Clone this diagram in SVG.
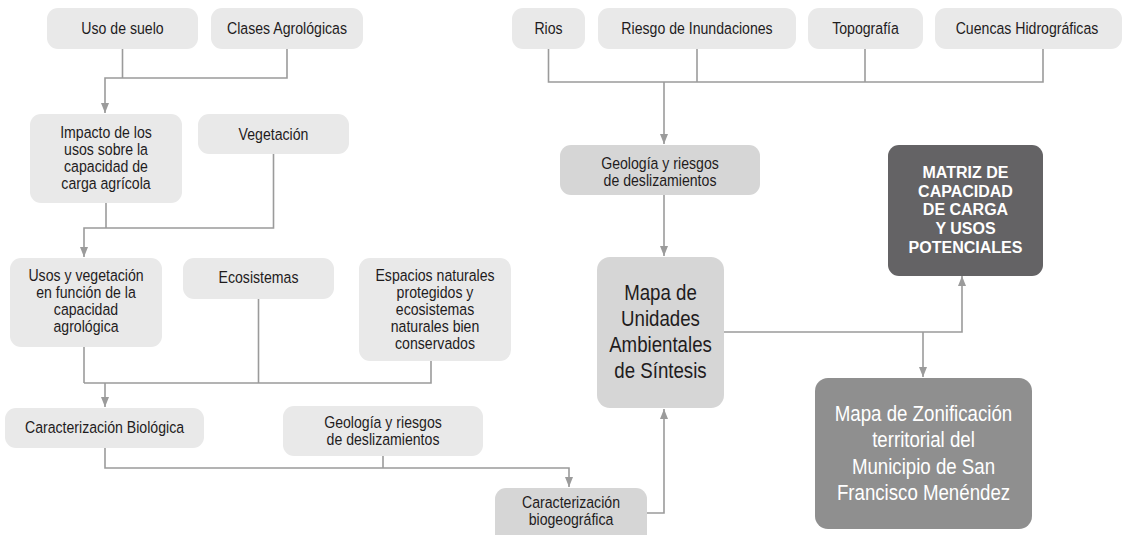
<svg xmlns="http://www.w3.org/2000/svg" width="1122" height="535" viewBox="0 0 1122 535">
<style>
.lt{fill:#e9e9e9}
.md{fill:#d6d6d6}
.dk{fill:#646365}
.zn{fill:#8f8f8f}
text{font-family:"Liberation Sans",Arial,sans-serif;font-size:17px;fill:#1f1c1d;text-anchor:middle}
.big{font-size:22.5px}
.wh{fill:#ffffff}
.bold{font-weight:bold;font-size:16px;fill:#ffffff}
.conn path{fill:none;stroke:#9b9b9b;stroke-width:1.6}
</style>
<defs>
<marker id="ah" markerUnits="userSpaceOnUse" markerWidth="10" markerHeight="8" refX="10" refY="4" orient="auto">
<path d="M0,0 L10,4 L0,8 z" fill="#9b9b9b"/>
</marker>
</defs>
<rect width="1122" height="535" fill="#ffffff"/>

<g class="conn">
<path d="M122.5,49 V78"/>
<path d="M287,49 V78 H105 V113" marker-end="url(#ah)"/>
<path d="M106,203 V228"/>
<path d="M273.5,154 V228 H84 V257" marker-end="url(#ah)"/>
<path d="M84,347 V383"/>
<path d="M258.5,299 V383"/>
<path d="M431,361 V383 H84"/>
<path d="M105,383 V407" marker-end="url(#ah)"/>
<path d="M105,448 V468 H569 V487" marker-end="url(#ah)"/>
<path d="M383,456 V468"/>
<path d="M548.5,49 V82 H1043 V49"/>
<path d="M697,49 V82"/>
<path d="M865,49 V82"/>
<path d="M664,82 V144" marker-end="url(#ah)"/>
<path d="M664,195 V256" marker-end="url(#ah)"/>
<path d="M724,332 H962 V276" marker-end="url(#ah)"/>
<path d="M923,332 V377" marker-end="url(#ah)"/>
<path d="M647,513 H664 V409" marker-end="url(#ah)"/>
</g>

<g id="uso-suelo"><rect class="lt" x="47" y="8" width="151" height="41" rx="11"/><g transform="translate(122.5 0) scale(.83 1)"><text x="0" y="34.5">Uso de suelo</text></g></g>
<g id="clases"><rect class="lt" x="211" y="8" width="152" height="41" rx="11"/><g transform="translate(287 0) scale(.83 1)"><text x="0" y="34.5">Clases Agrológicas</text></g></g>
<g id="impacto"><rect class="lt" x="30" y="114" width="152" height="89" rx="11"/><g transform="translate(106 0) scale(.83 1)">
<text x="0" y="138">Impacto de los</text><text x="0" y="155">usos sobre la</text><text x="0" y="172">capacidad de</text><text x="0" y="189">carga agrícola</text></g></g>
<g id="vegetacion"><rect class="lt" x="198" y="114" width="151" height="40" rx="11"/><g transform="translate(273.5 0) scale(.83 1)"><text x="0" y="140">Vegetación</text></g></g>
<g id="usos-veg"><rect class="lt" x="10" y="258" width="152" height="89" rx="11"/><g transform="translate(86 0) scale(.83 1)">
<text x="0" y="281">Usos y vegetación</text><text x="0" y="298">en función de la</text><text x="0" y="315">capacidad</text><text x="0" y="332">agrológica</text></g></g>
<g id="ecosistemas"><rect class="lt" x="183" y="258" width="151" height="41" rx="11"/><g transform="translate(258.5 0) scale(.83 1)"><text x="0" y="283.5">Ecosistemas</text></g></g>
<g id="espacios"><rect class="lt" x="359" y="258" width="152" height="103" rx="11"/><g transform="translate(435 0) scale(.83 1)">
<text x="0" y="281">Espacios naturales</text><text x="0" y="298">protegidos y</text><text x="0" y="315">ecosistemas</text><text x="0" y="332">naturales bien</text><text x="0" y="349">conservados</text></g></g>
<g id="caract-bio"><rect class="lt" x="5" y="408" width="199" height="40" rx="11"/><g transform="translate(104.5 0) scale(.83 1)"><text x="0" y="433.5">Caracterización Biológica</text></g></g>
<g id="geologia-izq"><rect class="lt" x="283" y="406" width="200" height="50" rx="11"/><g transform="translate(383 0) scale(.83 1)">
<text x="0" y="428.5">Geología y riesgos</text><text x="0" y="445.5">de deslizamientos</text></g></g>

<g id="rios"><rect class="lt" x="512" y="8" width="73" height="41" rx="11"/><g transform="translate(548.5 0) scale(.83 1)"><text x="0" y="34.5">Rios</text></g></g>
<g id="riesgo"><rect class="lt" x="598" y="8" width="198" height="41" rx="11"/><g transform="translate(697 0) scale(.83 1)"><text x="0" y="34.5">Riesgo de Inundaciones</text></g></g>
<g id="topografia"><rect class="lt" x="808" y="8" width="115" height="41" rx="11"/><g transform="translate(865.5 0) scale(.83 1)"><text x="0" y="34.5">Topografía</text></g></g>
<g id="cuencas"><rect class="lt" x="935" y="8" width="187" height="41" rx="11"/><g transform="translate(1027 0) scale(.83 1)"><text x="0" y="34.5">Cuencas Hidrográficas</text></g></g>
<g id="geologia-der"><rect class="md" x="560" y="145" width="200" height="50" rx="11"/><g transform="translate(660 0) scale(.83 1)">
<text x="0" y="169">Geología y riesgos</text><text x="0" y="186">de deslizamientos</text></g></g>
<g id="matriz"><rect class="dk" x="888" y="145" width="155" height="131" rx="11"/>
<text class="bold" x="965.5" y="178">MATRIZ DE</text><text class="bold" x="965.5" y="196.5">CAPACIDAD</text><text class="bold" x="965.5" y="215">DE CARGA</text><text class="bold" x="965.5" y="233.5">Y USOS</text><text class="bold" x="965.5" y="252.5">POTENCIALES</text></g>
<g id="mapa-unidades"><rect class="md" x="597" y="257" width="127" height="151" rx="13"/><g transform="translate(660.5 0) scale(.83 1)">
<text class="big" x="0" y="300">Mapa de</text><text class="big" x="0" y="326">Unidades</text><text class="big" x="0" y="352">Ambientales</text><text class="big" x="0" y="378">de Síntesis</text></g></g>
<g id="zonificacion"><rect class="zn" x="815" y="378" width="217" height="151" rx="13"/><g transform="translate(923.5 0) scale(.83 1)">
<text class="big wh" x="0" y="421">Mapa de Zonificación</text><text class="big wh" x="0" y="447">territorial del</text><text class="big wh" x="0" y="474">Municipio de San</text><text class="big wh" x="0" y="500">Francisco Menéndez</text></g></g>
<g id="caract-biogeo"><rect class="md" x="495" y="488" width="152" height="60" rx="11"/><g transform="translate(571 0) scale(.83 1)">
<text x="0" y="508">Caracterización</text><text x="0" y="525">biogeográfica</text></g></g>
</svg>
